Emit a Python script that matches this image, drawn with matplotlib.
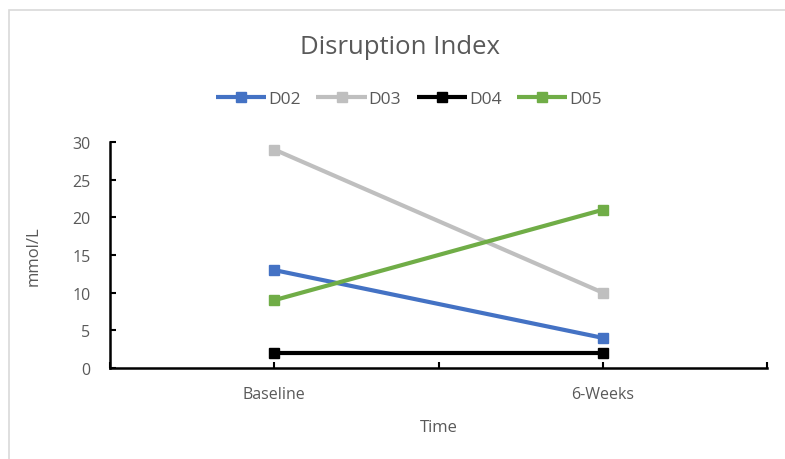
import matplotlib.pyplot as plt
from matplotlib.patches import Rectangle

plt.rcParams['font.family'] = ['Open Sans', 'DejaVu Sans']

# disruption index per subject, baseline vs 6 weeks
time_points = ["Baseline", "6-Weeks"]
subjects = ["D02", "D03", "D04", "D05"]
d02 = [13, 4]
d03 = [29, 10]
d04 = [2, 2]
d05 = [9, 21]
series = [d02, d03, d04, d05]
colors = ["#4472C4", "#BFBFBF", "#000000", "#70AD47"]

text_col = "#595959"

fig = plt.figure(figsize=(7.85, 4.6), dpi=100)
fig.patches.append(Rectangle((9 / 785, -0.1), 1.2, 1 - 11 / 460 + 0.1,
                             transform=fig.transFigure, fill=False,
                             edgecolor="#D9D9D9", linewidth=1.2))

ax = fig.add_axes([110 / 785, 1 - 369 / 460, (767 - 110) / 785, (369 - 143) / 460])

# categories sit on every other tick of the axis
xpos = [0, 2]
for name, vals, c in zip(subjects, series, colors):
    ax.plot(xpos, vals, color=c, linewidth=3, marker="s", markersize=7.5,
            label=name, solid_capstyle="butt")

ax.set_xlim(-1, 3)
ax.set_ylim(0, 30)
ax.set_yticks(range(0, 31, 5))
ax.set_xticks([-1, 0, 1, 2, 3])
ax.set_xticklabels(["", time_points[0], "", time_points[1], ""])

for s in ["top", "right"]:
    ax.spines[s].set_visible(False)
for s in ["left", "bottom"]:
    ax.spines[s].set_linewidth(1.8)
    ax.spines[s].set_color("black")

ax.tick_params(axis="both", direction="in", length=4, width=1.5,
               labelsize=11.5, labelcolor=text_col)
ax.tick_params(axis="x", pad=13)
ax.tick_params(axis="y", pad=14)

ax.set_ylabel("mmol/L", fontsize=12, color=text_col, labelpad=22)
ax.set_xlabel("Time", fontsize=12, color=text_col, labelpad=12)

fig.text(400 / 785, 1 - 47 / 460, "Disruption Index", ha="center", va="center",
         fontsize=18.5, color=text_col)

fig.legend(loc="center", bbox_to_anchor=(409 / 785, 1 - 100 / 460), ncol=4,
           frameon=False, fontsize=12.5, handlelength=2.9, handletextpad=0.1,
           columnspacing=0.9, labelcolor=text_col)

fig.savefig("out.png", dpi=100, facecolor="white")
